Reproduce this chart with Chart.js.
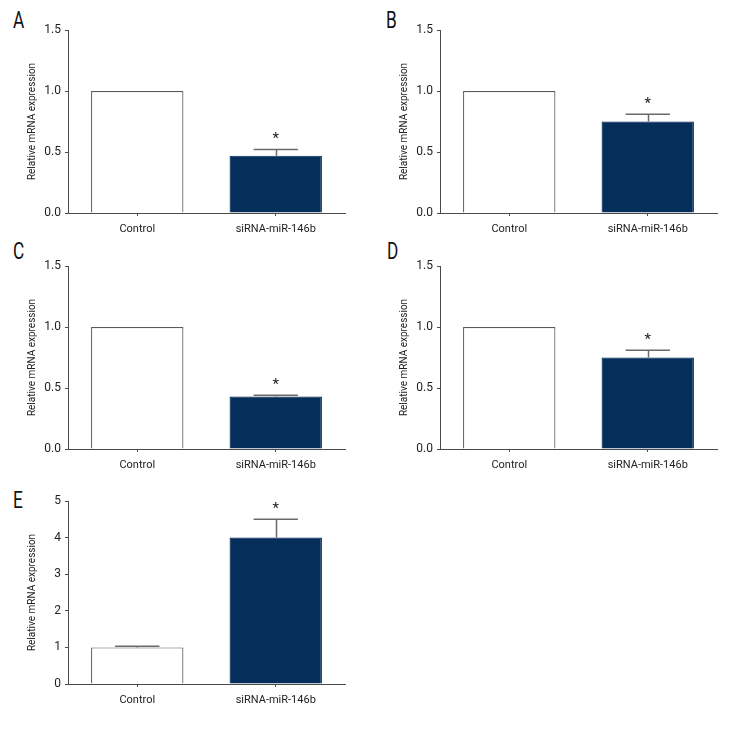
<!DOCTYPE html>
<html>
<head>
<meta charset="utf-8">
<script src="https://cdn.jsdelivr.net/npm/chart.js@4"></script>
<style>
  body { margin: 0; background: #fff; }
  #wrap { position: relative; width: 744px; height: 732px; }
  .panel { position: absolute; width: 372px; height: 240px; }
  .letter { position: absolute; font-family: Roboto, sans-serif; font-size: 23px; line-height: 1;
    color: #111; transform: scaleX(0.75); transform-origin: left top; }
</style>
</head>
<body>
<div id="wrap">
  <div class="letter" style="left:13px;top:9px">A</div>
  <div class="letter" style="left:386px;top:9px">B</div>
  <div class="letter" style="left:13px;top:240px">C</div>
  <div class="letter" style="left:387px;top:240px">D</div>
  <div class="letter" style="left:13px;top:489px">E</div>
  <div class="panel" style="left:0;top:0"><canvas id="chartA" width="372" height="240"></canvas></div>
  <div class="panel" style="left:372px;top:0"><canvas id="chartB" width="372" height="240"></canvas></div>
  <div class="panel" style="left:0;top:236px"><canvas id="chartC" width="372" height="240"></canvas></div>
  <div class="panel" style="left:372px;top:236px"><canvas id="chartD" width="372" height="240"></canvas></div>
  <div class="panel" style="left:0;top:471px"><canvas id="chartE" width="372" height="240"></canvas></div>
</div>
<script>
// data
const categories = ['Control', 'siRNA-miR-146b'];

const meansA = [1.0, 0.47];
const errA = [0, 0.05];
const meansB = [1.0, 0.75];
const errB = [0, 0.06];
const meansC = [1.0, 0.43];
const errC = [0, 0.01];
const meansD = [1.0, 0.75];
const errD = [0, 0.06];
const meansE = [1.0, 4.0];
const errE = [0.03, 0.5];
const stars = [false, true];

const yMaxSmall = 1.5;
const yStepSmall = 0.5;
const yMaxE = 5;
const yStepE = 1;

const FONT = 'Roboto, sans-serif';
const AXIS = '#4a4a4a';
const NAVY = '#062e5a';

// upper error bar + significance star
const errorBars = {
  id: 'errorBars',
  afterDatasetsDraw(chart, args, opts) {
    const ctx = chart.ctx;
    const meta = chart.getDatasetMeta(0);
    const y = chart.scales.y;
    meta.data.forEach((bar, i) => {
      const err = opts.errors[i];
      let top = bar.y;
      if (err) {
        top = y.getPixelForValue(opts.means[i] + err);
        const half = bar.width * 0.24;
        ctx.save();
        ctx.strokeStyle = '#6a6a6a';
        ctx.lineWidth = 1.5;
        ctx.beginPath();
        ctx.moveTo(Math.round(bar.x) + 0.5, bar.y);
        ctx.lineTo(Math.round(bar.x) + 0.5, top);
        ctx.moveTo(bar.x - half, top);
        ctx.lineTo(bar.x + half, top);
        ctx.stroke();
        ctx.restore();
      }
      if (opts.stars[i]) {
        ctx.save();
        ctx.fillStyle = '#222';
        ctx.font = '15px ' + FONT;
        ctx.textAlign = 'center';
        ctx.textBaseline = 'middle';
        ctx.fillText('*', bar.x, top - 10);
        ctx.restore();
      }
    });
  }
};

function makeChart(id, means, errs, yMax, yStep, digits) {
  return new Chart(document.getElementById(id), {
    type: 'bar',
    data: {
      labels: categories,
      datasets: [{
        data: means,
        backgroundColor: ['#ffffff', NAVY],
        borderColor: ['#5a5a5a', NAVY],
        borderWidth: 1.2,
        borderSkipped: 'bottom',
        barPercentage: 1,
        categoryPercentage: 0.667
      }]
    },
    options: {
      responsive: false,
      animation: false,
      devicePixelRatio: 1,
      layout: { padding: { left: 0, top: 30, right: 27, bottom: 0 } },
      plugins: {
        legend: { display: false },
        tooltip: { enabled: false },
        errorBars: { means: means, errors: errs, stars: stars }
      },
      scales: {
        x: {
          afterFit: (s) => { s.height = 27; },
          grid: { display: true, offset: false, drawOnChartArea: false, tickLength: 3, color: AXIS },
          border: { display: true, color: AXIS, width: 1 },
          ticks: { color: '#222', padding: 7, font: { family: FONT, size: 11 } }
        },
        y: {
          min: 0,
          max: yMax,
          afterFit: (s) => { s.width = 68; },
          grid: { display: true, drawOnChartArea: false, tickLength: 3, color: AXIS },
          border: { display: true, color: AXIS, width: 1 },
          ticks: {
            stepSize: yStep,
            color: '#222',
            padding: 4,
            font: { family: FONT, size: 12 },
            callback: (v) => Number(v).toFixed(digits)
          },
          title: {
            display: true,
            text: 'Relative mRNA expression',
            color: '#222',
            padding: { top: 26, bottom: 0 },
            font: { family: FONT, size: 10 }
          }
        }
      }
    },
    plugins: [errorBars]
  });
}

makeChart('chartA', meansA, errA, yMaxSmall, yStepSmall, 1);
makeChart('chartB', meansB, errB, yMaxSmall, yStepSmall, 1);
makeChart('chartC', meansC, errC, yMaxSmall, yStepSmall, 1);
makeChart('chartD', meansD, errD, yMaxSmall, yStepSmall, 1);
makeChart('chartE', meansE, errE, yMaxE, yStepE, 0);
</script>
</body>
</html>
